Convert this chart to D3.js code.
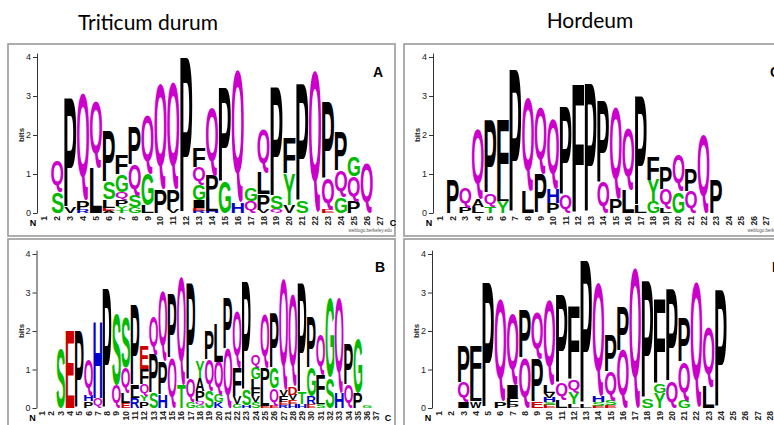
<!DOCTYPE html>
<html>
<head>
<meta charset="utf-8">
<script src="https://cdn.jsdelivr.net/npm/d3@7"></script>
<style>
  body { margin: 0; background: #fff; }
  svg { display: block; }
</style>
</head>
<body>
<div id="chart"></div>
<script>
// y axis ticks (bits)
const bitTicks = [0, 1, 2, 3, 4];

// each column = letters from bottom to top, [residue, bits]
const durumA = [
  [],
  [["S", 0.55], ["Q", 0.8]],
  [["V", 0.15], ["P", 2.8]],
  [["R", 0.08], ["P", 0.22], ["Q", 2.75]],
  [["L", 1.15], ["Q", 1.7]],
  [["A", 0.06], ["E", 0.08], ["L", 0.2], ["S", 0.45], ["P", 1.3]],
  [["T", 0.07], ["Y", 0.1], ["P", 0.17], ["Q", 0.2], ["G", 0.45], ["F", 0.5]],
  [["G", 0.15], ["S", 0.3], ["Q", 0.8], ["P", 0.95]],
  [["L", 0.2], ["G", 0.8], ["Q", 1.5]],
  [["P", 0.6], ["Q", 2.7]],
  [["V", 0.1], ["P", 0.5], ["Q", 2.75]],
  [["P", 4.0]],
  [["R", 0.05], ["E", 0.07], ["I", 0.2], ["G", 0.4], ["Q", 0.45], ["F", 0.5]],
  [["H", 0.05], ["L", 0.35], ["P", 0.55], ["Q", 1.75]],
  [["G", 0.8], ["P", 2.4]],
  [["H", 0.27], ["Q", 3.4]],
  [["Q", 0.3], ["G", 0.35]],
  [["V", 0.08], ["P", 0.4], ["L", 0.55], ["Q", 1.1]],
  [["Q", 0.1], ["S", 0.33], ["P", 2.8]],
  [["V", 0.2], ["Y", 0.8], ["F", 0.9]],
  [["S", 0.3], ["P", 3.0]],
  [["Q", 3.65]],
  [["E", 0.08], ["Q", 0.8], ["P", 1.95]],
  [["G", 0.4], ["Q", 0.7], ["P", 1.0]],
  [["P", 0.3], ["Q", 0.65], ["G", 0.5]],
  [["Q", 1.3]],
  []
];

const durumB = [
  [],
  [],
  [["S", 1.55]],
  [["E", 2.0]],
  [["P", 2.0]],
  [["P", 0.17], ["H", 0.15], ["Q", 0.95]],
  [["Q", 0.25], ["H", 2.0]],
  [["P", 3.1]],
  [["Q", 0.6], ["S", 1.85]],
  [["E", 0.13], ["L", 0.27], ["Q", 0.65], ["S", 1.3]],
  [["R", 0.25], ["L", 0.25], ["I", 0.1], ["P", 2.1]],
  [["P", 0.17], ["Y", 0.15], ["Q", 0.3], ["F", 0.4], ["E", 0.6]],
  [["S", 0.4], ["P", 1.0], ["Q", 1.0]],
  [["H", 0.35], ["P", 0.85], ["Q", 1.8]],
  [["Q", 1.3], ["P", 1.65]],
  [["T", 0.6], ["Q", 2.8]],
  [["G", 0.15], ["Q", 0.6], ["P", 2.5]],
  [["G", 0.08], ["Q", 0.1], ["P", 0.25], ["A", 0.35], ["Y", 0.42]],
  [["S", 0.45], ["Q", 0.8], ["P", 0.75]],
  [["K", 0.15], ["G", 0.2], ["Q", 0.85], ["L", 1.0]],
  [["Q", 1.55], ["P", 1.3]],
  [["G", 0.1], ["V", 0.2], ["F", 0.75], ["Q", 1.45]],
  [["H", 0.08], ["S", 0.4], ["P", 2.8]],
  [["S", 0.15], ["V", 0.15], ["F", 0.2], ["L", 0.25], ["G", 0.3], ["Q", 0.35]],
  [["E", 0.05], ["L", 0.5], ["P", 0.5], ["Q", 1.4]],
  [["E", 0.05], ["Q", 0.45], ["G", 0.55], ["P", 1.4]],
  [["R", 0.07], ["E", 0.08], ["F", 0.15], ["V", 0.15], ["Q", 2.9]],
  [["H", 0.1], ["E", 0.1], ["V", 0.15], ["D", 0.2], ["Q", 2.4]],
  [["H", 0.1], ["T", 0.3], ["P", 2.85]],
  [["E", 0.1], ["R", 0.2], ["G", 0.75], ["P", 1.3]],
  [["S", 0.1], ["L", 0.15], ["F", 0.6], ["Q", 1.05]],
  [["S", 0.8], ["G", 2.05]],
  [["H", 0.4], ["Q", 2.45]],
  [["Q", 0.6], ["P", 1.05]],
  [["P", 0.4], ["G", 1.4]],
  [["G", 0.08]],
  []
];

const hordeumA = [
  [],
  [["P", 0.85]],
  [["P", 0.15], ["Q", 0.5]],
  [["L", 0.15], ["A", 0.2], ["Q", 1.8]],
  [["T", 0.15], ["Q", 0.35], ["P", 1.85]],
  [["Y", 0.3], ["L", 0.3], ["F", 1.8]],
  [["P", 3.65]],
  [["L", 0.55], ["Q", 2.4]],
  [["P", 1.0], ["Q", 1.7]],
  [["P", 0.25], ["H", 0.35], ["Q", 1.8]],
  [["Q", 0.45], ["P", 2.25]],
  [["F", 3.3]],
  [["P", 3.3]],
  [["Q", 0.8], ["P", 2.1]],
  [["P", 0.35], ["Q", 2.35]],
  [["L", 0.6], ["Q", 1.6]],
  [["L", 0.2], ["P", 2.8]],
  [["G", 0.3], ["Y", 0.55], ["F", 0.6]],
  [["L", 0.12], ["Q", 0.5], ["P", 0.55]],
  [["G", 0.55], ["Q", 0.95]],
  [["Q", 0.55], ["P", 0.55]],
  [["Q", 2.0]],
  [["P", 0.85]],
  [], [], [], [], []
];

const hordeumB = [
  [],
  [],
  [["I", 0.17], ["Q", 0.5], ["P", 0.95]],
  [["W", 0.17], ["L", 0.5], ["F", 0.95]],
  [["P", 3.25]],
  [["P", 0.17], ["Q", 2.65]],
  [["P", 0.1], ["F", 0.15], ["I", 0.35], ["Q", 1.85]],
  [["Q", 1.3], ["P", 1.25]],
  [["E", 0.17], ["P", 1.1], ["Q", 1.2]],
  [["E", 0.08], ["S", 0.07], ["H", 0.12], ["V", 0.12], ["L", 0.2], ["Q", 2.2]],
  [["L", 0.2], ["Q", 0.45], ["P", 2.3]],
  [["L", 0.1], ["Y", 0.3], ["Q", 0.35], ["F", 1.9]],
  [["L", 0.1], ["P", 3.7]],
  [["E", 0.05], ["S", 0.1], ["H", 0.15], ["Q", 2.95]],
  [["E", 0.07], ["S", 0.13], ["Q", 0.75], ["P", 0.95]],
  [["Q", 1.5], ["P", 1.15]],
  [["Q", 3.65]],
  [["S", 0.25], ["P", 3.05]],
  [["Y", 0.38], ["G", 0.25], ["F", 2.2]],
  [["Q", 0.7], ["P", 2.4]],
  [["G", 0.2], ["Q", 1.0], ["P", 1.15]],
  [["Q", 3.25]],
  [["L", 0.55], ["Q", 1.55]],
  [["P", 3.05]],
  [], [], [], []
];

const titles = ["Triticum durum", "Hordeum"];

// weblogo colour scheme
function letterColor(ch) {
  if ("GSTYC".includes(ch)) return "#00bb00";
  if ("QN".includes(ch)) return "#cc00cc";
  if ("KRH".includes(ch)) return "#0000cc";
  if ("DE".includes(ch)) return "#cc0000";
  return "#000000";
}

// panel layout
const panels = [
  { label: "A", data: durumA, box: [8, 44, 387, 192], xr: [38, 386], base: 213, bit: 39, credit: true, labelX: 378 },
  { label: "B", data: durumB, box: [8, 239, 387, 200], xr: [37.5, 381], base: 408, bit: 38.5, credit: false, labelX: 380 },
  { label: "C", data: hordeumA, box: [404, 44, 385, 192], xr: [434, 785], base: 213, bit: 39, credit: true, labelX: 775 },
  { label: "D", data: hordeumB, box: [404, 239, 385, 200], xr: [433, 776], base: 408, bit: 38.5, credit: false, labelX: 777 }
];

const svg = d3.select("#chart")
  .append("svg")
  .attr("width", 774)
  .attr("height", 425)
  .style("font-family", "'Liberation Sans', Arial, sans-serif");

// measure the ink box of each glyph so letters fill their slot exactly
const FS = 100;
const ctx = document.createElement("canvas").getContext("2d");
ctx.font = `bold ${FS}px 'Liberation Sans'`;
const inkCache = {};
function ink(ch) {
  if (!inkCache[ch]) {
    const m = ctx.measureText(ch);
    inkCache[ch] = {
      l: m.actualBoundingBoxLeft || 0,
      r: m.actualBoundingBoxRight || m.width,
      a: m.actualBoundingBoxAscent || 72,
      d: m.actualBoundingBoxDescent || 0
    };
  }
  return inkCache[ch];
}

function drawLetter(g, ch, x0, yTop, w, h) {
  if (h <= 0.2) return;
  const b = ink(ch);
  const sx = w / (b.l + b.r);
  const sy = h / (b.a + b.d);
  g.append("text")
    .attr("transform", `translate(${x0 + b.l * sx},${yTop + b.a * sy}) scale(${sx},${sy})`)
    .attr("font-size", FS)
    .attr("font-weight", "bold")
    .attr("fill", letterColor(ch))
    .text(ch);
}

// titles
svg.append("text")
  .attr("x", 148).attr("y", 30)
  .attr("text-anchor", "middle")
  .style("font-family", "Lato, 'Open Sans', sans-serif")
  .attr("font-size", 21)
  .text(titles[0]);

svg.append("text")
  .attr("x", 590).attr("y", 28)
  .attr("text-anchor", "middle")
  .style("font-family", "Lato, 'Open Sans', sans-serif")
  .attr("font-size", 21)
  .text(titles[1]);

panels.forEach(p => {
  const g = svg.append("g");

  // frame
  g.append("rect")
    .attr("x", p.box[0]).attr("y", p.box[1])
    .attr("width", p.box[2]).attr("height", p.box[3])
    .attr("fill", "none")
    .attr("stroke", "#9a9a9a")
    .attr("stroke-width", 1.6);

  const n = p.data.length;
  const x = d3.scaleBand()
    .domain(d3.range(1, n + 1))
    .range(p.xr)
    .paddingInner(0.06)
    .paddingOuter(0.03);

  const y = d3.scaleLinear()
    .domain([0, 4.1])
    .range([p.base, p.base - 4.1 * p.bit]);

  // y axis
  const ax = g.append("g")
    .attr("transform", `translate(${p.xr[0] - 1},0)`)
    .call(d3.axisLeft(y).tickValues(bitTicks).tickSize(4).tickSizeOuter(0).tickPadding(2).tickFormat(d3.format("d")));
  ax.selectAll("text").attr("font-size", 9).attr("fill", "#222");
  ax.selectAll("line, path").attr("stroke", "#333");

  g.append("text")
    .attr("transform", `translate(${p.xr[0] - 14},${y(2)}) rotate(-90)`)
    .attr("text-anchor", "middle")
    .attr("font-size", 8)
    .attr("font-weight", "bold")
    .attr("fill", "#222")
    .text("bits");

  // position numbers
  g.selectAll(".pos")
    .data(d3.range(1, n + 1))
    .enter().append("text")
    .attr("transform", d => `translate(${x(d) + x.bandwidth() / 2 + 3},${p.base + 3}) rotate(-90)`)
    .attr("text-anchor", "end")
    .attr("font-size", 8.5)
    .attr("font-weight", "bold")
    .attr("fill", "#222")
    .text(d => d);

  g.append("text")
    .attr("x", p.xr[0] - 5).attr("y", p.base + 13)
    .attr("text-anchor", "middle")
    .attr("font-size", 9).attr("font-weight", "bold")
    .text("N");

  g.append("text")
    .attr("x", p.xr[1] + 7).attr("y", p.base + 13)
    .attr("text-anchor", "middle")
    .attr("font-size", 9).attr("font-weight", "bold")
    .text("C");

  // panel letter
  g.append("text")
    .attr("x", p.labelX).attr("y", p.box[1] + 33)
    .attr("text-anchor", "middle")
    .attr("font-size", 14).attr("font-weight", "bold")
    .text(p.label);

  if (p.credit) {
    g.append("text")
      .attr("x", p.xr[1] + 6).attr("y", p.box[1] + p.box[3] - 4)
      .attr("text-anchor", "end")
      .attr("font-size", 4.5)
      .attr("fill", "#555")
      .text("weblogo.berkeley.edu");
  }

  // letter stacks
  p.data.forEach((col, i) => {
    let acc = 0;
    col.forEach(([ch, v]) => {
      const yb = y(acc), yt = y(acc + v);
      acc += v;
      drawLetter(g, ch, x(i + 1), yt, x.bandwidth(), yb - yt);
    });
  });
});
</script>
</body>
</html>
